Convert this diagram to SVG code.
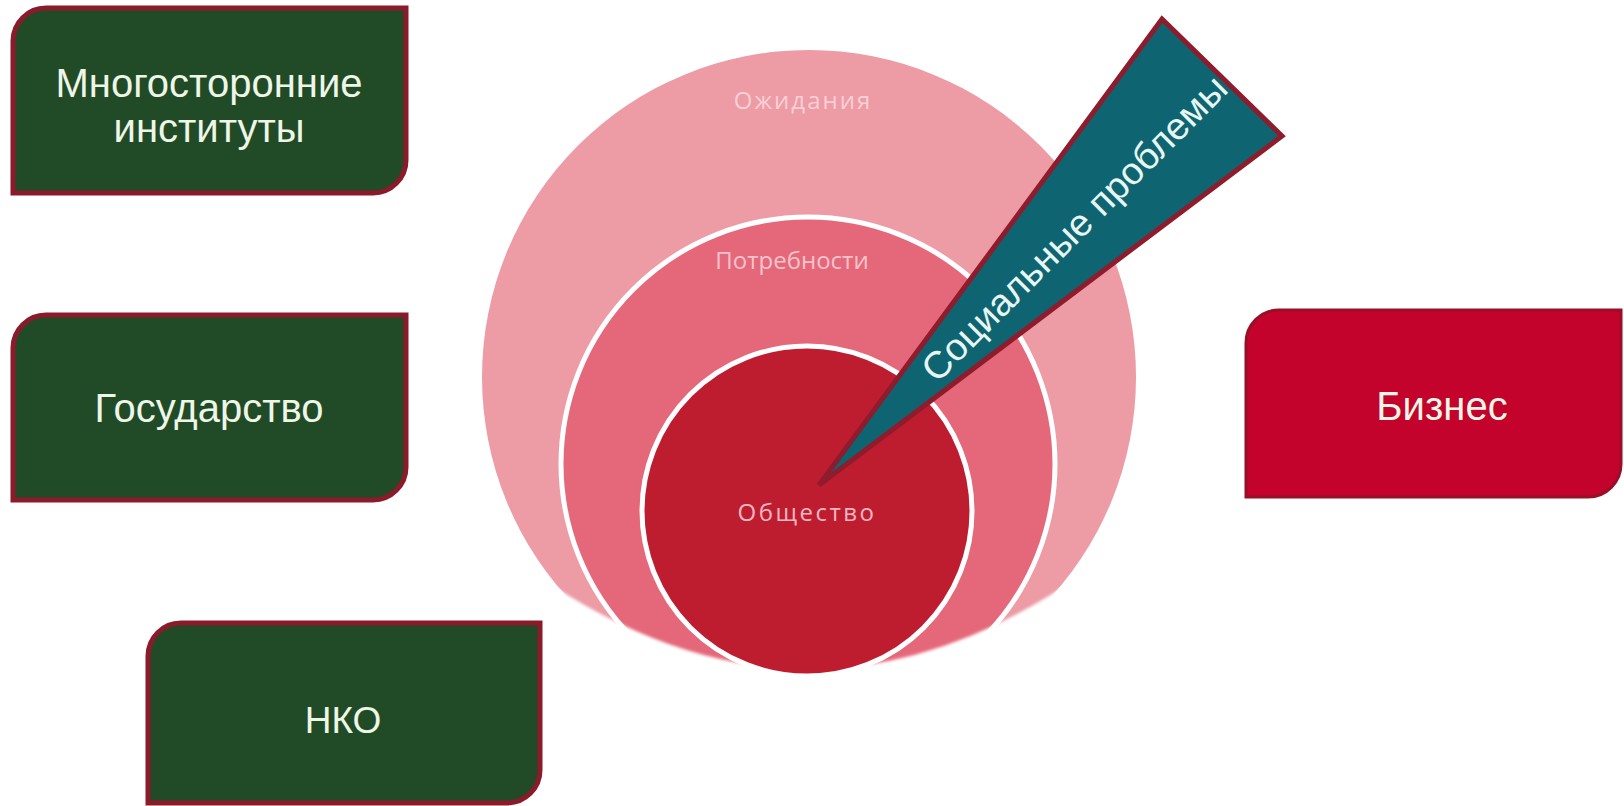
<svg xmlns="http://www.w3.org/2000/svg" width="1624" height="806" viewBox="0 0 1624 806">
  <style>
    .box { fill: #214B26; stroke: #8B1A2A; stroke-width: 5; }
    .boxR { fill: #C3032B; stroke: #9A0F28; stroke-width: 3; }
    .bt { font-family: "Liberation Sans", Arial, sans-serif; font-size: 40px; fill: #EEF6E8; text-anchor: middle; }
    .ct { font-family: "Open Sans", "Liberation Sans", sans-serif; font-size: 24px; text-anchor: middle; }
    .wt { font-family: "Liberation Sans", Arial, sans-serif; font-size: 38px; fill: #E8F6F3; text-anchor: middle; }
  </style>
  <defs>
    <filter id="soft" x="-10%" y="-10%" width="120%" height="120%">
      <feGaussianBlur stdDeviation="1.5"/>
    </filter>
    <mask id="fade" maskUnits="userSpaceOnUse" x="0" y="0" width="1624" height="806">
      <path d="M0,0 H1624 V466 H1209 Q809,872 409,466 H0 Z" fill="#FFFFFF" filter="url(#soft)"/>
    </mask>
  </defs>
  <rect x="0" y="0" width="1624" height="806" fill="#FFFFFF"/>

  <g id="circles">
    <g mask="url(#fade)">
      <circle id="outer" cx="809" cy="377" r="327" fill="#ED9BA5"/>
      <circle id="middle" cx="808" cy="464" r="247" fill="#E5687A" stroke="#FFFFFF" stroke-width="5"/>
    </g>
    <circle id="inner" cx="807" cy="511" r="165" fill="#BE1D30" stroke="#FFFFFF" stroke-width="5"/>
    <text class="ct" x="803" y="109" fill="#F8D0D6" letter-spacing="2">Ожидания</text>
    <text class="ct" x="792" y="269" fill="#F6C3CB">Потребности</text>
    <text class="ct" x="807" y="521" fill="#F3B7C0" letter-spacing="2.5">Общество</text>
  </g>

  <g id="wedge">
    <polygon points="819,485 1162,19 1282,136" fill="#0E6470" stroke="#8E1C2C" stroke-width="5" stroke-linejoin="miter"/>
    <text class="wt" transform="translate(1074,228) rotate(-45)" dy="0.35em">Социальные проблемы</text>
  </g>

  <g id="node-multilateral">
    <path class="box" d="M13,41 A33,33 0 0 1 46,8 H406 V160 A33,33 0 0 1 373,193 H13 Z"/>
    <text class="bt" x="209" y="97">Многосторонние</text>
    <text class="bt" x="209" y="142">институты</text>
  </g>

  <g id="node-state">
    <path class="box" d="M13,348 A33,33 0 0 1 46,315 H406 V467 A33,33 0 0 1 373,500 H13 Z"/>
    <text class="bt" x="209" y="422">Государство</text>
  </g>

  <g id="node-nko">
    <path class="box" d="M148,656 A33,33 0 0 1 181,623 H540 V770 A33,33 0 0 1 507,803 H148 Z"/>
    <text class="bt" x="343" y="733" style="font-size:37px">НКО</text>
  </g>

  <g id="node-business">
    <path class="boxR" d="M1246,343 A33,33 0 0 1 1279,310 H1621 V464 A33,33 0 0 1 1588,497 H1246 Z"/>
    <text class="bt" x="1442" y="420">Бизнес</text>
  </g>

  <g id="connectors"/>
</svg>
